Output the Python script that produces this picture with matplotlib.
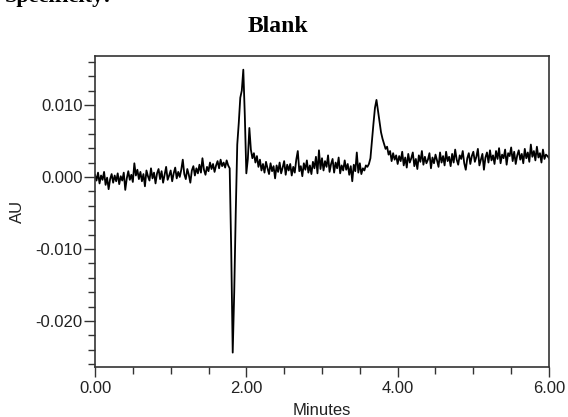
import numpy as np
import matplotlib
matplotlib.use("Agg")
import matplotlib.pyplot as plt
from matplotlib.ticker import MultipleLocator

plt.rcParams["font.family"] = ["Liberation Sans", "DejaVu Sans"]
plt.rcParams["axes.unicode_minus"] = False

# 检测器信号 (mAU)，每 0.02 min 一个采样点，按保留时间分段
sample_step = 0.02  # min
baseline_start = [   # 0.00 - 1.78 min
    0.3, -0.5, 0.6, -0.9, 0.2, -0.4, 0.7, -1.1, -0.1, -1.7,
    -0.3, 0.4, -0.8, 0.2, -0.6, 0.5, -1.0, 0.1, -0.5, 0.6,
    -1.8, -0.2, 0.8, -0.4, 0.3, -0.7, 1.9, 0.2, 1.0, -0.3,
    0.7, -0.6, 0.4, -1.3, 0.9, 0.1, -0.5, 1.2, -0.2, 0.6,
    -0.9, 0.5, 1.1, -0.3, 0.8, -0.8, 0.3, 1.4, -0.4, 0.2,
    0.9, -0.6, 0.5, 1.3, -0.2, 0.7, 0.0, 1.0, 2.4, 0.4,
    -0.3, 1.1, 0.3, -0.8, 0.9, 1.5, 0.2, 1.2, 0.5, 1.7,
    0.6, 2.6, 1.0, 0.3, 1.4, 0.8, 2.0, 1.1, 1.8, 0.7,
    1.6, 2.2, 1.2, 2.4, 1.5, 2.0, 1.3, 2.3, 1.6, 1.2,
]
solvent_front = [    # 1.80 - 2.18 min
    -10.0, -24.4, -16.0, -5.0, 4.5, 7.5, 11.0, 12.0, 14.9, 8.5,
    0.5, 2.5, 6.8, 3.8, 2.6, 3.3, 2.0, 2.9, 1.4, 2.4,
]
baseline_mid = [     # 2.20 - 3.58 min
    0.9, 1.8, 0.6, 2.1, 1.2, 0.4, 1.9, 0.8, 1.5, -0.2,
    1.6, 0.7, 2.0, 0.5, 1.3, 2.2, 0.3, 1.7, 0.9, 1.8,
    0.2, 1.4, 0.6, 2.4, 3.6, 0.8, 1.5, 0.1, 1.9, 1.0,
    2.3, 0.6, 1.6, 0.4, 2.1, 1.2, 2.8, 0.5, 3.7, 1.1,
    2.6, 0.9, 2.2, 1.4, 3.0, 0.7, 1.8, 2.5, 0.6, 2.0,
    1.2, 2.7, 0.5, 1.6, 0.9, 2.3, 1.0, 1.8, 0.3, 1.5,
    -0.6, 1.7, 0.8, 3.4, 0.6, 1.9, 0.4, 1.2, 0.9, 1.6,
]
peak_37 = [          # 3.60 - 3.98 min
    1.4, 1.8, 2.6, 5.0, 7.4, 9.6, 10.7, 9.2, 7.8, 6.2,
    5.3, 4.6, 3.9, 4.2, 3.1, 3.6, 2.2, 3.3, 2.4, 3.0,
]
baseline_end = [     # 4.00 - 6.00 min
    1.8, 2.9, 2.2, 3.5, 1.6, 2.7, 1.3, 3.2, 2.0, 2.6,
    3.4, 1.5, 2.5, 1.1, 3.0, 2.1, 3.6, 1.7, 2.8, 1.9,
    2.4, 3.3, 1.2, 2.7, 1.9, 3.1, 2.3, 1.4, 3.4, 2.0,
    2.9, 1.6, 3.5, 2.2, 2.8, 1.5, 3.2, 2.0, 3.8, 2.4,
    1.7, 3.0, 2.5, 3.6, 1.9, 1.0, 2.6, 3.3, 1.8, 2.9,
    3.5, 2.1, 2.8, 3.9, 1.6, 2.4, 3.2, 1.0, 2.7, 3.4,
    2.0, 3.7, 2.3, 3.0, 1.8, 3.6, 2.5, 4.0, 1.9, 3.1,
    2.6, 3.8, 1.7, 3.3, 2.9, 4.1, 2.2, 3.5, 1.8, 3.0,
    3.7, 2.4, 3.2, 1.9, 3.9, 2.6, 3.4, 2.1, 4.5, 2.8,
    3.6, 2.3, 4.2, 2.7, 3.3, 2.0, 3.8, 2.5, 3.1, 2.9,
    2.6,
]

x_ticks = [0, 2, 4, 6]
x_labels = ["0.00", "2.00", "4.00", "6.00"]
y_ticks = [-0.020, -0.010, 0.000, 0.010]
y_labels = ["-0.020", "-0.010", "0.000", "0.010"]

signal_mau = baseline_start + solvent_front + baseline_mid + peak_37 + baseline_end
signal = np.array(signal_mau) / 1000.0          # mAU -> AU
minutes = np.arange(len(signal)) * sample_step

fig = plt.figure(figsize=(5.68, 4.17), dpi=100)
fig.patch.set_facecolor("white")
ax = fig.add_axes([95 / 568, 1 - 367 / 417, 454 / 568, 311 / 417])

ax.plot(minutes, signal, color="black", linewidth=1.3)

ax.set_xlim(0, 6)
ax.set_ylim(-0.0264, 0.0168)

# 刻度
ax.set_xticks(x_ticks)
ax.set_xticklabels(x_labels)
ax.xaxis.set_minor_locator(MultipleLocator(0.5))
ax.set_yticks(y_ticks)
ax.set_yticklabels(y_labels)
ax.yaxis.set_minor_locator(MultipleLocator(0.002))
ax.tick_params(axis="both", which="major", direction="out", labelsize=12,
               labelcolor="#222222", color="#333333", width=1.0)
ax.tick_params(axis="y", which="major", length=8, pad=1)
ax.tick_params(axis="x", which="major", length=7, pad=3)
ax.tick_params(axis="both", which="minor", direction="out", length=5,
               color="#333333", width=1.0)

for sp in ax.spines.values():
    sp.set_color("#333333")
    sp.set_linewidth(1.2)

ax.set_xlabel("Minutes", fontsize=12, color="#222222")
ax.set_ylabel("AU", fontsize=12, color="#222222")
ax.xaxis.set_label_coords(0.5, -0.115)
ax.yaxis.set_label_coords(-0.155, 0.5)

# 标题 (页面文字)，上方文字在原图中被裁切，只露出下半部分
fig.text(278 / 568, 1 - 32 / 417, "Blank", ha="center", va="baseline",
         fontsize=17, fontweight="bold", family="Liberation Serif")
fig.text(112 / 568, 1 - 2 / 417, "Specificity:", ha="right", va="baseline",
         fontsize=16, fontweight="bold", family="Liberation Serif")

fig.savefig("out.png", dpi=100)
